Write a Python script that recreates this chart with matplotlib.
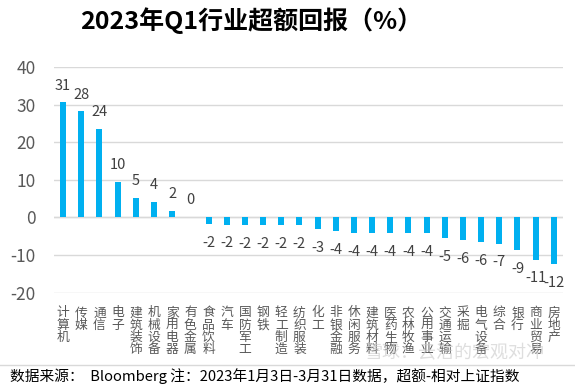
import numpy as np
import matplotlib.pyplot as plt

plt.rcParams['font.family'] = ['Noto Sans CJK SC', 'DejaVu Sans']

categories = ['计算机', '传媒', '通信', '电子', '建筑装饰', '机械设备', '家用电器', '有色金属',
              '食品饮料', '汽车', '国防军工', '钢铁', '轻工制造', '纺织服装', '化工', '非银金融',
              '休闲服务', '建筑材料', '医药生物', '农林牧渔', '公用事业', '交通运输', '采掘',
              '电气设备', '综合', '银行', '商业贸易', '房地产']
values = [30.6, 28.2, 23.5, 9.5, 5.2, 4.1, 1.7, 0.2,
          -1.8, -1.9, -2.0, -2.0, -2.0, -2.0, -3.2, -3.6,
          -4.1, -4.1, -4.1, -4.1, -4.1, -5.5, -6.1,
          -6.5, -7.0, -8.8, -11.2, -12.4]
labels = ['31', '28', '24', '10', '5', '4', '2', '0',
          '-2', '-2', '-2', '-2', '-2', '-2', '-3', '-4',
          '-4', '-4', '-4', '-4', '-4', '-5', '-6',
          '-6', '-7', '-9', '-11', '-12']
yticks = [-20, -10, 0, 10, 20, 30, 40]

fig = plt.figure(figsize=(5.75, 3.85), dpi=100)
ax = fig.add_axes([0.094, 0.240, 0.885, 0.586])

x = np.arange(len(categories))
ax.bar(x, values, width=0.33, color='#00B0F0', zorder=3)

for xi, v, lab in zip(x, values, labels):
    off = 12 if v >= 0 else -13.5
    ax.annotate(lab, (xi, v), xytext=(0, off), textcoords='offset points',
                ha='center', va='center', fontsize=10.5, color='#404040')

ax.set_xlim(-0.5, len(categories) - 0.5)
ax.set_ylim(-20, 40)
ax.set_yticks(yticks)
ax.set_yticklabels([str(t) for t in yticks], fontsize=12.5, color='#595959')
ax.tick_params(axis='y', length=0, pad=13)
ax.set_xticks([])
ax.grid(axis='y', color='#D9D9D9', linewidth=1, zorder=0)
ax.axhline(0, color='#D9D9D9', linewidth=1, zorder=1)
for s in ax.spines.values():
    s.set_visible(False)

# vertical stacked category labels
for xi, c in zip(x, categories):
    ax.annotate('\n'.join(c), (xi, -20), xytext=(0, -10), textcoords='offset points',
                ha='center', va='top', fontsize=9.2, color='#595959', linespacing=0.92)

fig.text(0.436, 0.947, '2023年Q1行业超额回报（%）', ha='center', va='center',
         fontsize=18, fontweight='bold', color='black')

fig.add_artist(plt.Line2D([0, 1], [1 - 365 / 385] * 2, color='#D9D9D9', linewidth=1))
fig.text(0.018, 1 - 376 / 385, '数据来源：  Bloomberg 注：2023年1月3日-3月31日数据，超额-相对上证指数',
         ha='left', va='center', fontsize=10.6, color='black')
fig.text(0.79, 1 - 353 / 385, '雪球：云洁的宏观对冲', ha='center', va='center',
         fontsize=13, color='#C8C8C8', alpha=0.6)

fig.savefig('out.png', dpi=100)
